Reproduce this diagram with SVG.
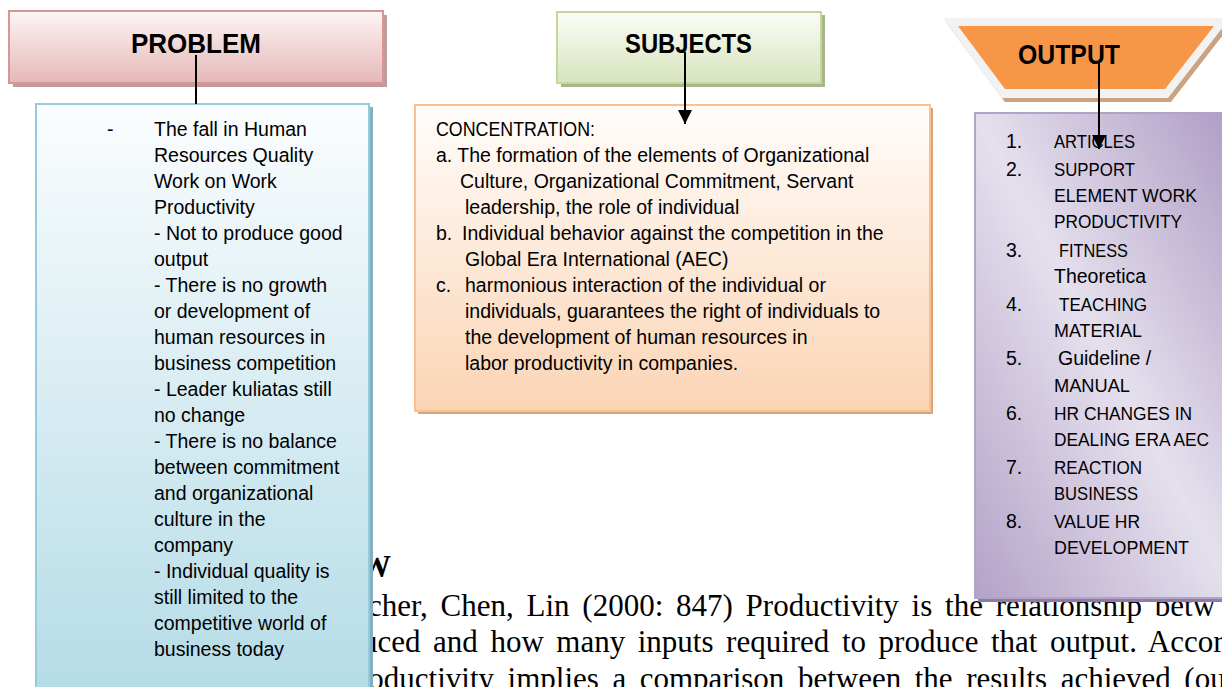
<svg xmlns="http://www.w3.org/2000/svg" width="1222" height="687" viewBox="0 0 1222 687">
<style>
.t{font-family:"Liberation Sans",Arial,sans-serif;font-size:19.5px;fill:#000}
.c{font-size:19px}
.h{font-family:"Liberation Sans",Arial,sans-serif;font-weight:bold;font-size:28px;fill:#000}
.doc{font-family:"Liberation Serif","Times New Roman",serif;font-size:31px;fill:#000}
.ln{stroke:#000;stroke-width:2;fill:none}
</style>
<defs>
<linearGradient id="gPink" x1="0" y1="0" x2="0" y2="1"><stop offset="0" stop-color="#fdf5f5"/><stop offset="1" stop-color="#e5b8b7"/></linearGradient>
<linearGradient id="gGreen" x1="0" y1="0" x2="0" y2="1"><stop offset="0" stop-color="#fbfdf6"/><stop offset="1" stop-color="#d7e4bd"/></linearGradient>
<linearGradient id="gOrange" x1="0" y1="0" x2="0" y2="1"><stop offset="0" stop-color="#fffdfb"/><stop offset="1" stop-color="#fbd4b4"/></linearGradient>
<linearGradient id="gBlue" x1="0" y1="0" x2="0" y2="1"><stop offset="0" stop-color="#fbfdfe"/><stop offset="1" stop-color="#b3dbe6"/></linearGradient>
<linearGradient id="gPurple" x1="0" y1="1" x2="1" y2="0"><stop offset="0" stop-color="#b3a2c8"/><stop offset="0.5" stop-color="#e5e0ed"/><stop offset="1" stop-color="#ad9bc4"/></linearGradient>
<marker id="arr" markerUnits="userSpaceOnUse" markerWidth="14" markerHeight="16" refX="14" refY="7" orient="auto"><path d="M0,0 L14,7 L0,14 Z" fill="#000"/></marker>
</defs>

<g id="doc-text">
<text class="doc" x="360" y="577" font-weight="bold" font-size="28">W</text>
<text class="doc" x="368" y="616" word-spacing="5">cher, Chen, Lin (2000: 847) Productivity is the relationship betw</text>
<text class="doc" x="362" y="652" word-spacing="4.8">uced and how many inputs required to produce that output. Accor</text>
<text class="doc" x="358" y="689" word-spacing="5.8">roductivity implies a comparison between the results achieved (ou</text>
</g>

<g id="problem">
<rect x="13" y="15" width="374" height="72" fill="#c29a99"/>
<rect x="9" y="11" width="374" height="72" fill="url(#gPink)" stroke="#d99694" stroke-width="2"/>
<text class="h" x="131" y="53" textLength="130" lengthAdjust="spacingAndGlyphs">PROBLEM</text>
</g>

<g id="problem-detail">
<rect x="39" y="107" width="334" height="600" fill="#86aec0"/>
<rect x="36" y="104" width="333" height="600" fill="url(#gBlue)" stroke="#93cddd" stroke-width="2"/>
<text class="t" x="107" y="136">-</text>
<text class="t" x="154" y="136">The fall in Human</text>
<text class="t" x="154" y="162">Resources Quality</text>
<text class="t" x="154" y="188">Work on Work</text>
<text class="t" x="154" y="214">Productivity</text>
<text class="t" x="154" y="240">- Not to produce good</text>
<text class="t" x="154" y="266">output</text>
<text class="t" x="154" y="292">- There is no growth</text>
<text class="t" x="154" y="318">or development of</text>
<text class="t" x="154" y="344">human resources in</text>
<text class="t" x="154" y="370">business competition</text>
<text class="t" x="154" y="396">- Leader kuliatas still</text>
<text class="t" x="154" y="422">no change</text>
<text class="t" x="154" y="448">- There is no balance</text>
<text class="t" x="154" y="474">between commitment</text>
<text class="t" x="154" y="500">and organizational</text>
<text class="t" x="154" y="526">culture in the</text>
<text class="t" x="154" y="552">company</text>
<text class="t" x="154" y="578">- Individual quality is</text>
<text class="t" x="154" y="604">still limited to the</text>
<text class="t" x="154" y="630">competitive world of</text>
<text class="t" x="154" y="656">business today</text>
</g>

<g id="subjects">
<rect x="561" y="15" width="264" height="72" fill="#a7b78b"/>
<rect x="557" y="12" width="264" height="71" fill="url(#gGreen)" stroke="#c3d69b" stroke-width="2"/>
<text class="h" x="625" y="53" textLength="127" lengthAdjust="spacingAndGlyphs">SUBJECTS</text>
</g>

<g id="subjects-detail">
<rect x="418" y="108" width="515" height="306" fill="#d8a47c"/>
<rect x="415" y="105" width="515" height="306" fill="url(#gOrange)" stroke="#fac08f" stroke-width="2"/>
<text class="t" x="436" y="136" textLength="159" lengthAdjust="spacingAndGlyphs">CONCENTRATION:</text>
<text class="t" x="436" y="162">a. The formation of the elements of Organizational</text>
<text class="t" x="460" y="188">Culture, Organizational Commitment, Servant</text>
<text class="t" x="465" y="214">leadership, the role of individual</text>
<text class="t" x="436" y="240">b.</text>
<text class="t" x="462" y="240">Individual behavior against the competition in the</text>
<text class="t" x="465" y="266">Global Era International (AEC)</text>
<text class="t" x="436" y="292">c.</text>
<text class="t" x="465" y="292">harmonious interaction of the individual or</text>
<text class="t" x="465" y="318">individuals, guarantees the right of individuals to</text>
<text class="t" x="465" y="344">the development of human resources in</text>
<text class="t" x="465" y="370">labor productivity in companies.</text>
</g>

<g id="output">
<polygon points="946,22 1233,22 1171,102 1005,102" fill="#c9a383"/>
<polygon points="943,18 1230,18 1168,98 1002,98" fill="#f2f2f2"/>
<polygon points="958,26 1214,26 1165,89 1005,89" fill="#f79646"/>
<text class="h" x="1018" y="64" textLength="102" lengthAdjust="spacingAndGlyphs">OUTPUT</text>
</g>

<g id="output-detail">
<rect x="978" y="116" width="262" height="486" fill="#8f7aa9"/>
<rect x="975" y="113" width="262" height="485" fill="url(#gPurple)" stroke="#b3a2c7" stroke-width="2"/>
<text class="t" x="1006" y="148">1.</text><text class="t c" x="1054" y="148" textLength="81" lengthAdjust="spacingAndGlyphs">ARTICLES</text>
<text class="t" x="1006" y="176">2.</text><text class="t c" x="1054" y="176" textLength="81" lengthAdjust="spacingAndGlyphs">SUPPORT</text>
<text class="t c" x="1054" y="202" textLength="143" lengthAdjust="spacingAndGlyphs">ELEMENT WORK</text>
<text class="t c" x="1054" y="228" textLength="128" lengthAdjust="spacingAndGlyphs">PRODUCTIVITY</text>
<text class="t" x="1006" y="257">3.</text><text class="t c" x="1059" y="257" textLength="69" lengthAdjust="spacingAndGlyphs">FITNESS</text>
<text class="t" x="1054" y="283">Theoretica</text>
<text class="t" x="1006" y="311">4.</text><text class="t c" x="1059" y="311" textLength="88" lengthAdjust="spacingAndGlyphs">TEACHING</text>
<text class="t c" x="1054" y="337" textLength="88" lengthAdjust="spacingAndGlyphs">MATERIAL</text>
<text class="t" x="1006" y="365">5.</text><text class="t" x="1058" y="365">Guideline /</text>
<text class="t c" x="1054" y="392" textLength="76" lengthAdjust="spacingAndGlyphs">MANUAL</text>
<text class="t" x="1006" y="420">6.</text><text class="t c" x="1054" y="420" textLength="138" lengthAdjust="spacingAndGlyphs">HR CHANGES IN</text>
<text class="t c" x="1054" y="446" textLength="155" lengthAdjust="spacingAndGlyphs">DEALING ERA AEC</text>
<text class="t" x="1006" y="474">7.</text><text class="t c" x="1054" y="474" textLength="88" lengthAdjust="spacingAndGlyphs">REACTION</text>
<text class="t c" x="1054" y="500" textLength="84" lengthAdjust="spacingAndGlyphs">BUSINESS</text>
<text class="t" x="1006" y="528">8.</text><text class="t c" x="1054" y="528" textLength="86" lengthAdjust="spacingAndGlyphs">VALUE HR</text>
<text class="t c" x="1054" y="554" textLength="135" lengthAdjust="spacingAndGlyphs">DEVELOPMENT</text>
</g>

<g id="connectors">
<line class="ln" x1="196" y1="55" x2="196" y2="104"/>
<line class="ln" x1="685" y1="52" x2="685" y2="124" marker-end="url(#arr)"/>
<line class="ln" x1="1099" y1="62" x2="1099" y2="149" marker-end="url(#arr)"/>
</g>
</svg>
